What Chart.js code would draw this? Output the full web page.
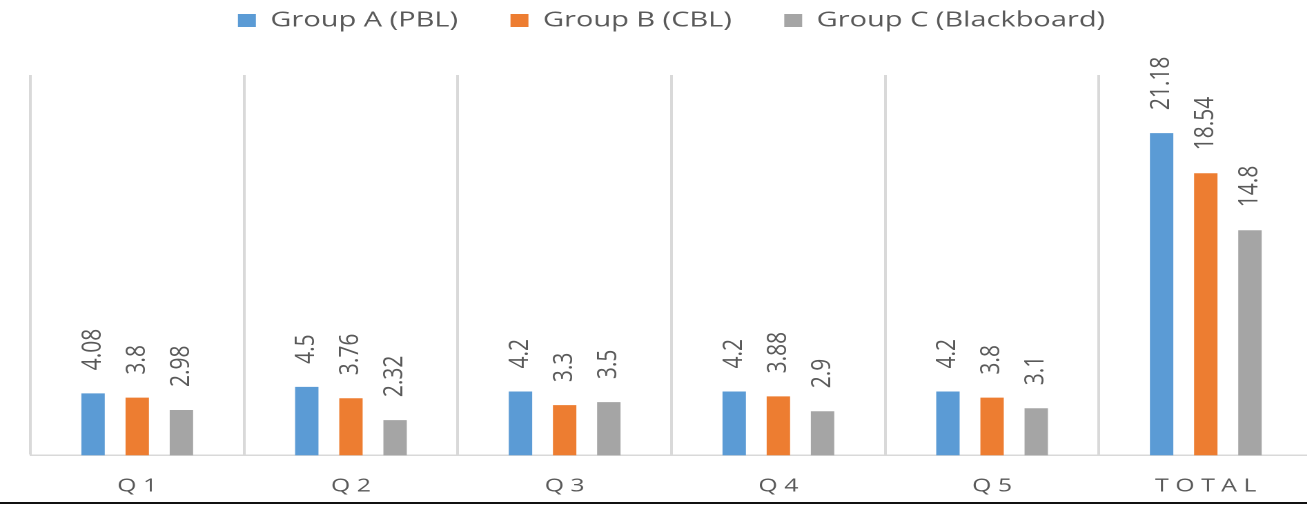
<!DOCTYPE html>
<html>
<head>
<meta charset="utf-8">
<script src="https://cdn.jsdelivr.net/npm/chart.js@4.4.0/dist/chart.umd.min.js"></script>
<style>
  html, body { margin: 0; padding: 0; background: #fff; overflow: hidden; }
  #wrap { width: 1307px; height: 502px; overflow: hidden; border-bottom: 2px solid #111; }
</style>
</head>
<body>
<div id="wrap"><canvas id="chart" width="973" height="502" style="width:1343px;height:502px"></canvas></div>
<script>
const categories = ['Q1', 'Q2', 'Q3', 'Q4', 'Q5', 'TOTAL'];
const groupA = [4.08, 4.5, 4.2, 4.2, 4.2, 21.18];
const groupB = [3.8, 3.76, 3.3, 3.88, 3.8, 18.54];
const groupC = [2.98, 2.32, 3.5, 2.9, 3.1, 14.8];
const seriesNames = ['Group A (PBL)', 'Group B (CBL)', 'Group C (Blackboard)'];
const seriesColors = ['#5b9bd5', '#ed7d31', '#a5a5a5'];
const yMin = 0;
const yMax = 25;

const TEXT = '#595959';
Chart.defaults.font.family = "'Open Sans', sans-serif";

// the source picture is stretched sideways: the canvas is drawn narrow and
// widened by css, so labels on bars get squeezed back a little
const legendSpace = {
    id: 'legendSpace',
    beforeInit(chart) {
        const fit = chart.legend.fit;
        chart.legend.fit = function () {
            fit.call(this);
            this.height = 103;
        };
    }
};

const valueLabels = {
    id: 'valueLabels',
    afterDatasetsDraw(chart) {
        const ctx = chart.ctx;
        ctx.save();
        ctx.fillStyle = TEXT;
        ctx.font = "21px 'Open Sans', sans-serif";
        ctx.textAlign = 'left';
        ctx.textBaseline = 'middle';
        chart.data.datasets.forEach((ds, i) => {
            chart.getDatasetMeta(i).data.forEach((bar, j) => {
                ctx.save();
                ctx.translate(bar.x, bar.y - 23);
                ctx.scale(0.9, 1);
                ctx.rotate(-Math.PI / 2);
                ctx.fillText(String(ds.data[j]), 0, 0);
                ctx.restore();
            });
        });
        ctx.restore();
    }
};

const values = [groupA, groupB, groupC];

new Chart(document.getElementById('chart'), {
    type: 'bar',
    data: {
        labels: categories,
        datasets: values.map((data, i) => ({
            label: seriesNames[i],
            data: data,
            backgroundColor: seriesColors[i],
            borderWidth: 0
        }))
    },
    options: {
        responsive: false,
        devicePixelRatio: 2,
        animation: false,
        layout: { padding: { top: -28, left: 22, right: 22, bottom: -15 } },
        datasets: {
            bar: { categoryPercentage: 0.62, barPercentage: 0.53 }
        },
        plugins: {
            legend: {
                position: 'top',
                labels: {
                    color: TEXT,
                    font: { size: 21 },
                    boxWidth: 13,
                    boxHeight: 13,
                    padding: 38
                }
            },
            tooltip: { enabled: false }
        },
        scales: {
            x: {
                grid: { color: '#d9d9d9', lineWidth: 2, drawTicks: false },
                border: { color: '#d9d9d9', width: 1.5 },
                ticks: {
                    color: TEXT,
                    font: { size: 18 },
                    padding: 20,
                    maxRotation: 0,
                    callback: (v, i) => categories[i].split('').join(' ')
                }
            },
            y: { display: false, min: yMin, max: yMax }
        }
    },
    plugins: [legendSpace, valueLabels]
});
</script>
</body>
</html>
